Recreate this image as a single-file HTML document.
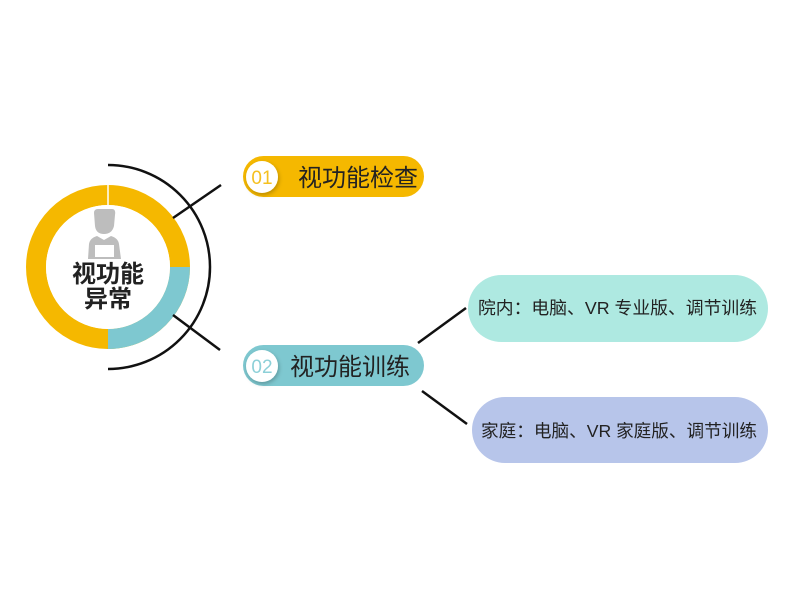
<!DOCTYPE html>
<html><head><meta charset="utf-8"><style>
html,body{margin:0;padding:0;background:#fff;}
svg{display:block;}
text{font-family:"Liberation Sans","Noto Sans CJK SC",sans-serif;}
</style></head><body>
<svg width="800" height="600" viewBox="0 0 800 600" xmlns="http://www.w3.org/2000/svg">
<defs>
<filter id="sh" x="-20%" y="-20%" width="140%" height="140%"><feDropShadow dx="1" dy="2" stdDeviation="2" flood-color="#000" flood-opacity="0.25"/></filter>
</defs>
<circle cx="108" cy="267" r="72" fill="none" stroke="#f5b800" stroke-width="20"/>
<path d="M180 267 A72 72 0 0 1 108 339" fill="none" stroke="#7ec8d0" stroke-width="20"/>
<line x1="108" y1="185" x2="108" y2="205" stroke="#fff" stroke-width="1.5"/>
<circle cx="108" cy="267" r="62" fill="#fff"/>
<path d="M94 213 Q94 209 98 209 L112 209 Q116 209 115 215 L114 226 Q112 234 104 234 Q96 234 95 226 Z" fill="#bdbdbd"/>
<path d="M88 259 L89 244 Q90 238 97 236 L104 240 L111 236 Q118 238 119 244 L121 259 Z" fill="#bdbdbd"/>
<rect x="95" y="245" width="19" height="12" fill="#fff"/>
<text x="108" y="282" font-size="24" font-weight="bold" fill="#222" text-anchor="middle">视功能</text>
<text x="108" y="307" font-size="24" font-weight="bold" fill="#222" text-anchor="middle">异常</text>
<path d="M108 165 A102 102 0 0 1 108 369" fill="none" stroke="#111" stroke-width="2.5"/>
<line x1="173" y1="218" x2="221" y2="185" stroke="#111" stroke-width="2.5"/>
<line x1="173" y1="315" x2="220" y2="350" stroke="#111" stroke-width="2.5"/>
<line x1="418" y1="343" x2="466" y2="308" stroke="#111" stroke-width="2.5"/>
<line x1="422" y1="391" x2="467" y2="424" stroke="#111" stroke-width="2.5"/>
<rect x="243" y="156" width="181" height="41" rx="20.5" fill="#f5b800"/>
<circle cx="262" cy="177" r="16" fill="#fff" filter="url(#sh)"/>
<text x="262" y="184" font-size="19" fill="#f5c020" text-anchor="middle">01</text>
<text x="298" y="186" font-size="24" fill="#222">视功能检查</text>
<rect x="243" y="345" width="181" height="41" rx="20.5" fill="#7ec8d0"/>
<circle cx="262" cy="366" r="16" fill="#fff" filter="url(#sh)"/>
<text x="262" y="373" font-size="19" fill="#8dd0d8" text-anchor="middle">02</text>
<text x="290" y="375" font-size="24" fill="#222">视功能训练</text>
<rect x="468" y="275" width="300" height="67" rx="33.5" fill="#aee9e1"/>
<text x="478" y="314" font-size="17.5" fill="#222" textLength="279" lengthAdjust="spacingAndGlyphs">院内：电脑、VR 专业版、调节训练</text>
<rect x="472" y="397" width="296" height="66" rx="33" fill="#b7c5ea"/>
<text x="481" y="437" font-size="17.5" fill="#222" textLength="276" lengthAdjust="spacingAndGlyphs">家庭：电脑、VR 家庭版、调节训练</text>
</svg>
</body></html>
